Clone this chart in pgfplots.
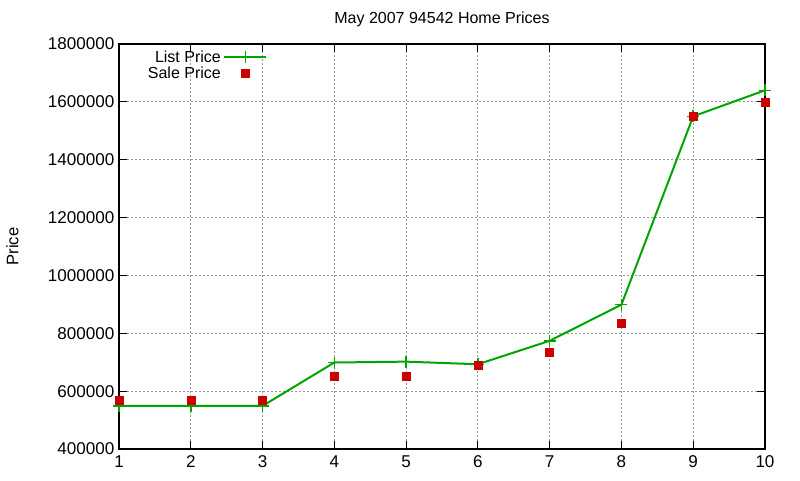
\documentclass[border=0pt]{standalone}
\usepackage{pgfplots}
\pgfplotsset{compat=1.18}
\usepackage{fontspec}
\setmainfont{Liberation Sans}
\definecolor{gpgreen}{RGB}{0,165,0}
\definecolor{gpred}{RGB}{204,0,0}
\pgfplotsset{
  legline/.style={legend image code/.code={\draw[mark repeat=2,mark phase=2,##1] plot coordinates {(0pt,0pt) (15.75pt,0pt) (31.5pt,0pt)};}},
  legmark/.style={legend image code/.code={\draw[##1] plot[only marks] coordinates {(15.75pt,0pt)};}},
}
\begin{document}
\begin{tikzpicture}
\useasboundingbox (-89.25pt,-23.25pt) rectangle (510.75pt,336.75pt);
\begin{axis}[
  at={(0,0)}, anchor=south west,
  scale only axis, width=484.5pt, height=303.75pt,
  xmin=1, xmax=10, ymin=400000, ymax=1800000,
  xtick={1,...,10},
  ytick={400000,600000,...,1800000},
  /pgf/number format/fixed, /pgf/number format/1000 sep={},
  /pgf/number format/assume math mode=true,
  scaled y ticks=false,
  tick align=inside, tick pos=both,
  major tick length=6pt,
  grid=major,
  major grid style={color=black!40, dash pattern=on 1.5pt off 1.5pt, line width=0.6pt},
  axis line style={black, line width=0.8pt},
  tick style={black, line width=0.8pt},
  ticklabel style={font=\fontsize{12.8}{14}\selectfont},
  xticklabel style={yshift=-1.5pt},
  title={May 2007 94542 Home Prices},
  title style={font=\fontsize{12}{14}\selectfont, at={(0.5,1)}, above, yshift=3pt},
  ylabel={Price},
  ylabel style={font=\fontsize{12.5}{14}\selectfont, at={(axis description cs:-0.165,0.5)}, anchor=center, rotate=0},
  legend style={draw=none, fill=none, at={(axis description cs:0.034,0.998)}, anchor=north west,
    font=\fontsize{12}{12}\selectfont, row sep=-2pt},
  legend cell align=right,
  legend plot pos=right,
]
\addplot[color=gpgreen, line width=1.5pt, mark=+, mark size=4.5pt, mark options={line width=1.1pt}, legline]
  coordinates {(1,549000) (2,549000) (3,549000) (4,699000) (5,702000) (6,693000) (7,774000) (8,899000) (9,1550000) (10,1640000)};
\addlegendentry{List Price}
\addplot[only marks, mark=square*, mark size=3pt, color=gpred, legmark]
  coordinates {(1,570000) (2,570000) (3,570000) (4,650000) (5,650000) (6,691000) (7,736000) (8,833000) (9,1550000) (10,1598000)};
\addlegendentry{Sale Price}
\end{axis}
\end{tikzpicture}
\end{document}
